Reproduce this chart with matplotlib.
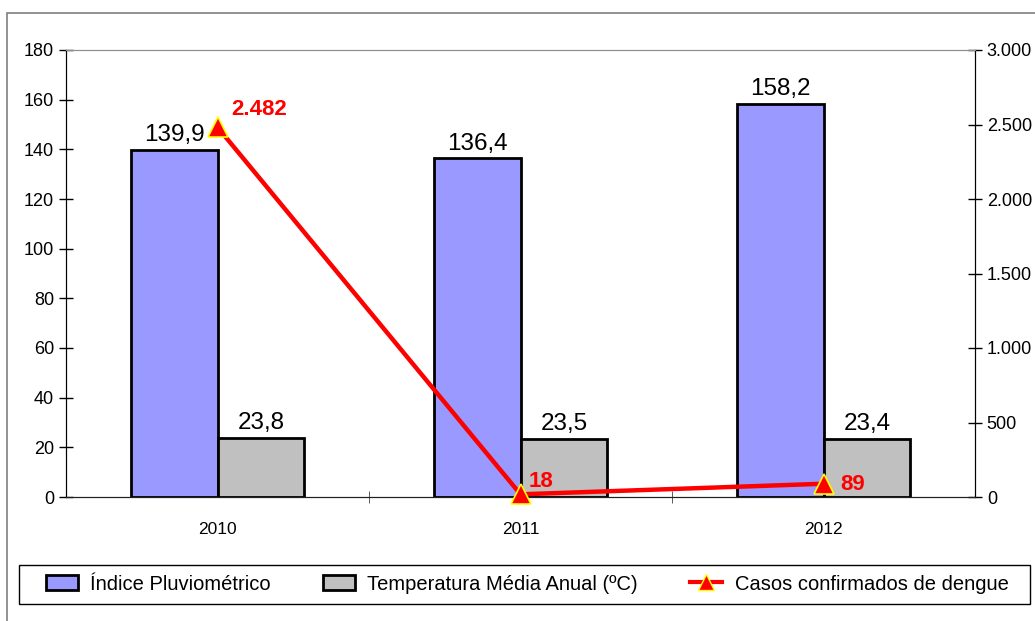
import matplotlib
matplotlib.use("Agg")
import matplotlib.pyplot as plt
from matplotlib.patches import Rectangle, Patch
from matplotlib.lines import Line2D
from matplotlib.ticker import FuncFormatter, MultipleLocator, FixedLocator

plt.rcParams['font.family'] = ['Liberation Sans', 'DejaVu Sans']

anos = ['2010', '2011', '2012']
pluviometrico = [139.9, 136.4, 158.2]
temperatura = [23.8, 23.5, 23.4]
casos_dengue = [2482, 18, 89]
rotulos_casos = ['2.482', '18', '89']

fig = plt.figure(figsize=(10.35, 6.21), dpi=100)
# moldura externa e caixa da legenda
fig.patches.append(Rectangle((7 / 1035, -0.05), 1.1, (621 - 13) / 621 + 0.05,
                             transform=fig.transFigure, fill=False,
                             edgecolor='#7f7f7f', linewidth=1.2))
fig.patches.append(Rectangle((19 / 1035, (621 - 604) / 621), (1030 - 19) / 1035, 39 / 621,
                             transform=fig.transFigure, fill=False,
                             edgecolor='black', linewidth=1))

ax = fig.add_axes([66 / 1035, (621 - 497) / 621, (975 - 66) / 1035, (497 - 50) / 621])
ax2 = ax.twinx()

x = list(range(len(anos)))
w = 0.287
b1 = ax.bar([i - w / 2 for i in x], pluviometrico, w, color='#9999ff',
            edgecolor='black', linewidth=2, zorder=2)
b2 = ax.bar([i + w / 2 for i in x], temperatura, w, color='#c0c0c0',
            edgecolor='black', linewidth=2, zorder=2)

for rect, v in zip(b1, pluviometrico):
    ax.text(rect.get_x() + rect.get_width() / 2, v + 1.5, f'{v:.1f}'.replace('.', ','),
            ha='center', va='bottom', fontsize=17.5)
for rect, v in zip(b2, temperatura):
    ax.text(rect.get_x() + rect.get_width() / 2, v + 1.5, f'{v:.1f}'.replace('.', ','),
            ha='center', va='bottom', fontsize=17.5)

ax.set_xlim(-0.5, 2.5)
ax.set_ylim(0, 180)
ax.yaxis.set_major_locator(MultipleLocator(20))
ax.set_xticks(x)
ax.set_xticklabels(anos, fontsize=12.5)
ax.tick_params(axis='x', length=0, pad=18)
ax.xaxis.set_minor_locator(FixedLocator([0.5, 1.5]))
ax.tick_params(axis='x', which='minor', length=8, direction='inout', color='#404040')
ax.tick_params(axis='y', labelsize=13, direction='inout', length=10, width=1)

ax2.plot(x, casos_dengue, color='red', linewidth=3.2, marker='^', markersize=14,
         markerfacecolor='red', markeredgecolor='yellow', markeredgewidth=1.2,
         zorder=5, clip_on=False)
ax2.set_ylim(0, 3000)
ax2.yaxis.set_major_locator(MultipleLocator(500))
ax2.yaxis.set_major_formatter(FuncFormatter(lambda v, p: f'{int(v):,}'.replace(',', '.')))
ax2.tick_params(axis='y', labelsize=13, direction='inout', length=10, width=1)

offsets = [(10, 5), (6, 2), (12, -8)]
for xi, v, lab, off in zip(x, casos_dengue, rotulos_casos, offsets):
    ax2.annotate(lab, (xi, v), xytext=off, textcoords='offset points',
                 color='red', fontsize=16, fontweight='bold', ha='left', va='bottom')

for a in (ax, ax2):
    a.spines['top'].set_color('#909090')
    a.spines['bottom'].set_color('#202020')
    a.spines['left'].set_color('black')
    a.spines['right'].set_color('black')

handles = [
    Patch(facecolor='#9999ff', edgecolor='black', linewidth=2),
    Patch(facecolor='#c0c0c0', edgecolor='black', linewidth=2),
    Line2D([0], [0], color='red', linewidth=3, marker='^', markersize=12,
           markerfacecolor='red', markeredgecolor='yellow'),
]
labels = ['Índice Pluviométrico', 'Temperatura Média Anual (ºC)', 'Casos confirmados de dengue']
leg = fig.legend(handles, labels, ncol=3, loc='center',
                 bbox_to_anchor=(527 / 1035, (621 - 584) / 621),
                 fontsize=14.5, frameon=False,
                 handlelength=1.6, handleheight=0.8, columnspacing=2.6,
                 handletextpad=0.6, borderpad=0.45)

fig.savefig('out.png', dpi=100)
